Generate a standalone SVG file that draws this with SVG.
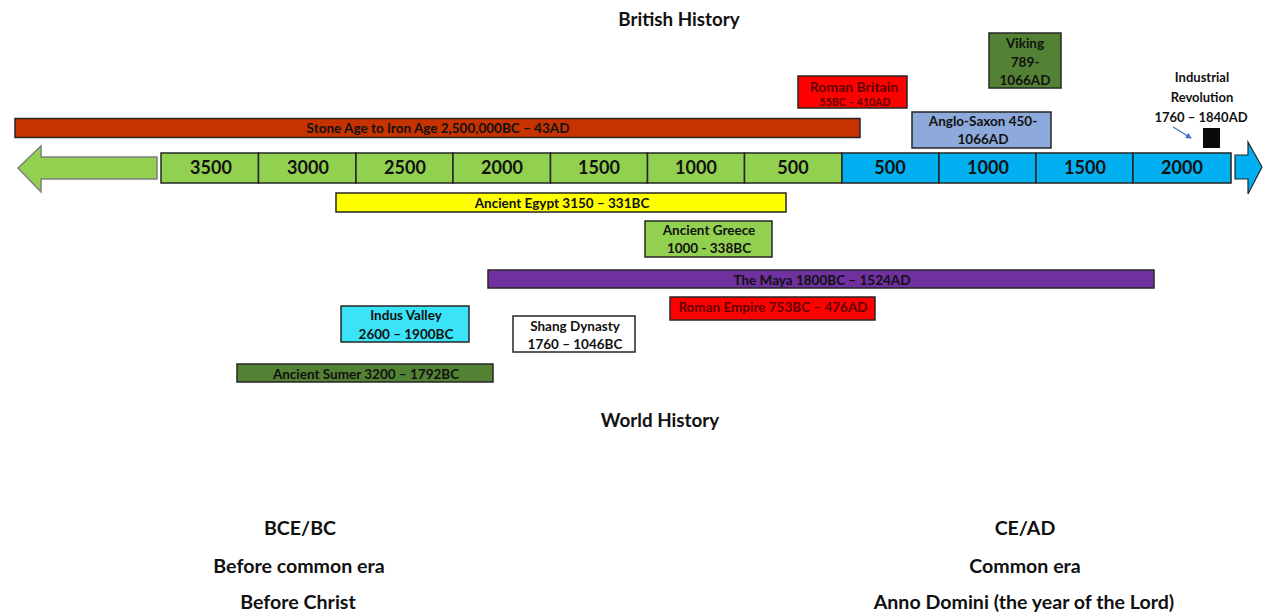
<svg xmlns="http://www.w3.org/2000/svg" width="1268" height="612" viewBox="0 0 1268 612">
<defs>
<style>
text{font-family:Lato,"Open Sans","Liberation Sans",sans-serif;font-weight:bold;fill:#111;text-anchor:middle;dominant-baseline:central}
.title{font-size:18.8px}
.big{font-size:19.6px}
.num{font-size:18px}
.lbl{font-size:13.5px}
.sm{font-size:10.5px}
.box{stroke:#262626;stroke-width:1.5}
.g{fill:#92D050}
.b{fill:#00B0F0}
.red{fill:#600000}
</style>
<marker id="ah" markerWidth="6" markerHeight="6" refX="5" refY="3" orient="auto" markerUnits="userSpaceOnUse">
<path d="M0,0 L6,3 L0,6 Z" fill="#4472C4"/>
</marker>
</defs>
<rect width="1268" height="612" fill="#fff"/>

<g id="titles">
<text class="title" x="679" y="18">British History</text>
<text class="title" x="660" y="419">World History</text>
</g>

<g id="timeline">
<polygon points="18,168 41,146 41,157 157,157 157,179 41,179 41,192" fill="#92D050" stroke="#7f7f7f" stroke-width="1.5"/>
<polygon points="1235,155 1248,155 1248,142 1262,167 1248,194 1248,179 1235,179" fill="#00B0F0" stroke="#262626" stroke-width="1.2"/>
<rect class="box g" x="161" y="153" width="97.5" height="30"/>
<rect class="box g" x="258.5" y="153" width="97.5" height="30"/>
<rect class="box g" x="356" y="153" width="97" height="30"/>
<rect class="box g" x="453" y="153" width="97.5" height="30"/>
<rect class="box g" x="550.5" y="153" width="97" height="30"/>
<rect class="box g" x="647.5" y="153" width="97" height="30"/>
<rect class="box g" x="744.5" y="153" width="97.5" height="30"/>
<rect class="box b" x="842" y="153" width="97" height="30"/>
<rect class="box b" x="939" y="153" width="97" height="30"/>
<rect class="box b" x="1036" y="153" width="97" height="30"/>
<rect class="box b" x="1133" y="153" width="98" height="30"/>
<text class="num" x="211" y="167">3500</text>
<text class="num" x="308" y="167">3000</text>
<text class="num" x="405" y="167">2500</text>
<text class="num" x="502" y="167">2000</text>
<text class="num" x="599" y="167">1500</text>
<text class="num" x="696" y="167">1000</text>
<text class="num" x="793" y="167">500</text>
<text class="num" x="890" y="167">500</text>
<text class="num" x="988" y="167">1000</text>
<text class="num" x="1085" y="167">1500</text>
<text class="num" x="1182" y="167">2000</text>
</g>

<g id="stone-age">
<rect class="box" x="15" y="118.5" width="845" height="19" fill="#C63300"/>
<text class="lbl" x="438" y="128">Stone Age to Iron Age 2,500,000BC – 43AD</text>
</g>

<g id="roman-britain">
<rect class="box" x="798" y="76" width="109" height="32" fill="#FF0000"/>
<text class="lbl red" x="854" y="86" style="font-size:14px">Roman Britain</text>
<text class="sm red" x="855" y="102">55BC – 410AD</text>
</g>

<g id="viking">
<rect class="box" x="989" y="33" width="72" height="55" fill="#548235"/>
<text class="lbl" x="1025" y="43">Viking</text>
<text class="lbl" x="1025" y="62">789-</text>
<text class="lbl" x="1025" y="80">1066AD</text>
</g>

<g id="anglo-saxon">
<rect class="box" x="912" y="112" width="139" height="36" fill="#8EA9DB"/>
<text class="lbl" x="983" y="121">Anglo-Saxon 450-</text>
<text class="lbl" x="983" y="139">1066AD</text>
</g>

<g id="industrial">
<text class="lbl" x="1202" y="77" style="font-size:13px">Industrial</text>
<text class="lbl" x="1202" y="97" style="font-size:13px">Revolution</text>
<text class="lbl" x="1201" y="117" style="font-size:13px">1760 – 1840AD</text>
<rect x="1203" y="128" width="17" height="20" fill="#0a0a0a"/>
</g>

<g id="egypt">
<rect class="box" x="336" y="193" width="450" height="19" fill="#FFFF00"/>
<text class="lbl" x="562" y="203">Ancient Egypt 3150 – 331BC</text>
</g>

<g id="greece">
<rect class="box" x="645" y="221" width="127" height="36" fill="#92D050"/>
<text class="lbl" x="709" y="230">Ancient Greece</text>
<text class="lbl" x="709" y="248">1000 - 338BC</text>
</g>

<g id="maya">
<rect class="box" x="488" y="270" width="666" height="18" fill="#7030A0"/>
<text class="lbl" x="822" y="280">The Maya 1800BC – 1524AD</text>
</g>

<g id="roman-empire">
<rect class="box" x="670" y="297" width="205" height="23" fill="#FF0000"/>
<text class="lbl red" x="773" y="307">Roman Empire 753BC – 476AD</text>
</g>

<g id="indus">
<rect class="box" x="341" y="306" width="128" height="36" fill="#3BE3F7"/>
<text class="lbl" x="406" y="315">Indus Valley</text>
<text class="lbl" x="406" y="334">2600 – 1900BC</text>
</g>

<g id="shang">
<rect class="box" x="513" y="316" width="122" height="36" fill="#FFFFFF"/>
<text class="lbl" x="575" y="326">Shang Dynasty</text>
<text class="lbl" x="575" y="344">1760 – 1046BC</text>
</g>

<g id="sumer">
<rect class="box" x="237" y="364" width="256" height="18" fill="#548235"/>
<text class="lbl" x="366" y="374">Ancient Sumer 3200 – 1792BC</text>
</g>

<g id="era-labels">
<text class="big" x="300" y="527">BCE/BC</text>
<text class="big" x="299" y="565">Before common era</text>
<text class="big" x="298" y="601">Before Christ</text>
<text class="big" x="1025" y="527">CE/AD</text>
<text class="big" x="1025" y="565">Common era</text>
<text class="big" x="1024" y="601">Anno Domini (the year of the Lord)</text>
</g>

<g id="connectors">
<line x1="1173" y1="127" x2="1191" y2="138" stroke="#4472C4" stroke-width="1.3" marker-end="url(#ah)"/>
</g>
</svg>
